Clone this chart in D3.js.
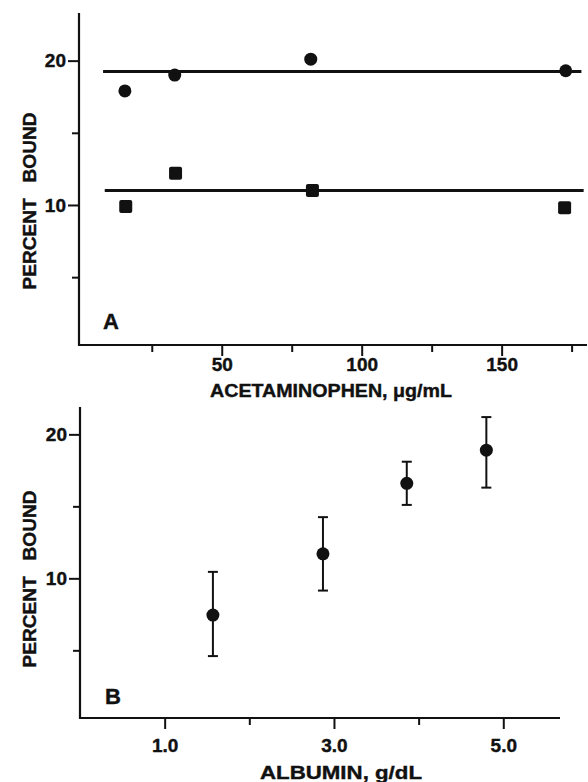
<!DOCTYPE html>
<html>
<head>
<meta charset="utf-8">
<script src="https://cdn.jsdelivr.net/npm/d3@7"></script>
<style>
    body { margin: 0; background: #fff; }
    svg text { font-family: "Liberation Sans", Arial, sans-serif; font-weight: bold; fill: #111; stroke: #111; stroke-width: 0.4px; }
</style>
</head>
<body>
<svg id="fig_svg" width="588" height="782"></svg>
<script>
// Panel A: percent bound vs acetaminophen concentration
var circleConc = [15.4, 33.2, 81.8, 172.9];
var circleBound = [17.9, 19.0, 20.1, 19.3];
var squareConc = [15.7, 33.5, 82.4, 172.5];
var squareBound = [9.9, 12.2, 11.0, 9.8];
var lineLevels = [19.25, 11.0];
var lineStart = [7.6, 8.2];
var lineEnd = [178.5, 179.3];

// Panel B: percent bound vs albumin
var albumin = [1.57, 2.87, 3.86, 4.80];
var boundMean = [7.45, 11.7, 16.6, 18.9];
var boundLow = [4.6, 9.15, 15.1, 16.3];
var boundHigh = [10.45, 14.25, 18.1, 21.2];

// ticks
var yMajor = [10, 20], yMinor = [5, 15];
var xMajorA = [50, 100, 150], xMinorA = [25, 75, 125, 175];
var xMajorB = [1, 3, 5], xMinorB = [2, 4];

var svg = d3.select("#fig_svg");
var ink = "#111";

function draw_axes(g, x, y, xMajor, xMinor, xFmt, xPad) {
    // major + minor ticks, y
    g.append("g")
        .attr("transform", "translate(" + x.range()[0] + ",0)")
        .call(d3.axisLeft(y).tickValues(yMajor).tickSize(11).tickPadding(2).tickFormat(d3.format("d")))
        .call(a => a.select(".domain").remove());
    g.append("g")
        .attr("transform", "translate(" + x.range()[0] + ",0)")
        .call(d3.axisLeft(y).tickValues(yMinor).tickSize(7).tickFormat(""))
        .call(a => a.select(".domain").remove());
    // x
    g.append("g")
        .attr("transform", "translate(0," + y.range()[0] + ")")
        .call(d3.axisBottom(x).tickValues(xMajor).tickSize(11).tickPadding(xPad).tickFormat(xFmt))
        .call(a => a.select(".domain").remove());
    g.append("g")
        .attr("transform", "translate(0," + y.range()[0] + ")")
        .call(d3.axisBottom(x).tickValues(xMinor).tickSize(7).tickFormat(""))
        .call(a => a.select(".domain").remove());

    g.selectAll(".tick line").attr("stroke", ink).attr("stroke-width", 2);
    g.selectAll(".tick text").style("font-size", "19px").attr("fill", ink);

    // axis lines (L shape)
    g.append("path")
        .attr("d", "M" + x.range()[0] + "," + y.range()[1] + "V" + y.range()[0] + "H" + x.range()[1])
        .attr("fill", "none")
        .attr("stroke", ink)
        .attr("stroke-width", 2.2);
}

function y_title(g, cx, cy) {
    g.append("text")
        .attr("transform", "translate(" + cx + "," + cy + ") rotate(-90)")
        .attr("text-anchor", "middle")
        .attr("textLength", 177)
        .attr("lengthAdjust", "spacingAndGlyphs")
        .style("font-size", "19px")
        .style("white-space", "pre")
        .text("PERCENT   BOUND");
}

// ---------- panel A ----------
var xA = d3.scaleLinear().domain([-1, 180.5]).range([79, 587]);
var yA = d3.scaleLinear().domain([0.3, 23.3]).range([345, 13]);
var gA = svg.append("g").attr("class", "panelA");

draw_axes(gA, xA, yA, xMajorA, xMinorA, d3.format("d"), 2);

gA.selectAll(".fit")
    .data(lineLevels)
    .enter()
    .append("line")
    .attr("class", "fit")
    .attr("x1", (d, i) => xA(lineStart[i]))
    .attr("x2", (d, i) => xA(lineEnd[i]))
    .attr("y1", d => yA(d))
    .attr("y2", d => yA(d))
    .attr("stroke", ink)
    .attr("stroke-width", 3);

gA.selectAll(".dotA")
    .data(circleBound)
    .enter()
    .append("circle")
    .attr("class", "dotA")
    .attr("cx", (d, i) => xA(circleConc[i]))
    .attr("cy", d => yA(d))
    .attr("r", 6.5)
    .attr("fill", ink);

gA.selectAll(".sqA")
    .data(squareBound)
    .enter()
    .append("rect")
    .attr("class", "sqA")
    .attr("x", (d, i) => xA(squareConc[i]) - 6.5)
    .attr("y", d => yA(d) - 6.5)
    .attr("width", 13)
    .attr("height", 13)
    .attr("rx", 2)
    .attr("fill", ink);

gA.append("text")
    .attr("x", 103).attr("y", 329)
    .style("font-size", "22px")
    .text("A");

gA.append("text")
    .attr("x", 331).attr("y", 397)
    .attr("text-anchor", "middle")
    .attr("textLength", 242)
    .attr("lengthAdjust", "spacingAndGlyphs")
    .style("font-size", "19px")
    .text("ACETAMINOPHEN, \u03bcg/mL");

y_title(gA, 36, 201);

// ---------- panel B ----------
var xB = d3.scaleLinear().domain([0, 5.67]).range([80, 560]);
var yB = d3.scaleLinear().domain([0.3, 21.9]).range([718, 407]);
var gB = svg.append("g").attr("class", "panelB");

draw_axes(gB, xB, yB, xMajorB, xMinorB, d3.format(".1f"), 10);

var errs = gB.selectAll(".err")
    .data(boundMean)
    .enter()
    .append("g")
    .attr("class", "err")
    .attr("stroke", ink)
    .attr("stroke-width", 2);

errs.append("line")
    .attr("x1", (d, i) => xB(albumin[i]))
    .attr("x2", (d, i) => xB(albumin[i]))
    .attr("y1", (d, i) => yB(boundLow[i]))
    .attr("y2", (d, i) => yB(boundHigh[i]));
errs.append("line")
    .attr("x1", (d, i) => xB(albumin[i]) - 5)
    .attr("x2", (d, i) => xB(albumin[i]) + 5)
    .attr("y1", (d, i) => yB(boundHigh[i]))
    .attr("y2", (d, i) => yB(boundHigh[i]));
errs.append("line")
    .attr("x1", (d, i) => xB(albumin[i]) - 5)
    .attr("x2", (d, i) => xB(albumin[i]) + 5)
    .attr("y1", (d, i) => yB(boundLow[i]))
    .attr("y2", (d, i) => yB(boundLow[i]));

gB.selectAll(".dotB")
    .data(boundMean)
    .enter()
    .append("circle")
    .attr("class", "dotB")
    .attr("cx", (d, i) => xB(albumin[i]))
    .attr("cy", d => yB(d))
    .attr("r", 6.5)
    .attr("fill", ink);

gB.append("text")
    .attr("x", 105).attr("y", 704)
    .style("font-size", "22px")
    .text("B");

gB.append("text")
    .attr("x", 341).attr("y", 779)
    .attr("text-anchor", "middle")
    .attr("textLength", 162)
    .attr("lengthAdjust", "spacingAndGlyphs")
    .style("font-size", "19px")
    .text("ALBUMIN, g/dL");

y_title(gB, 36, 579);
</script>
</body>
</html>
